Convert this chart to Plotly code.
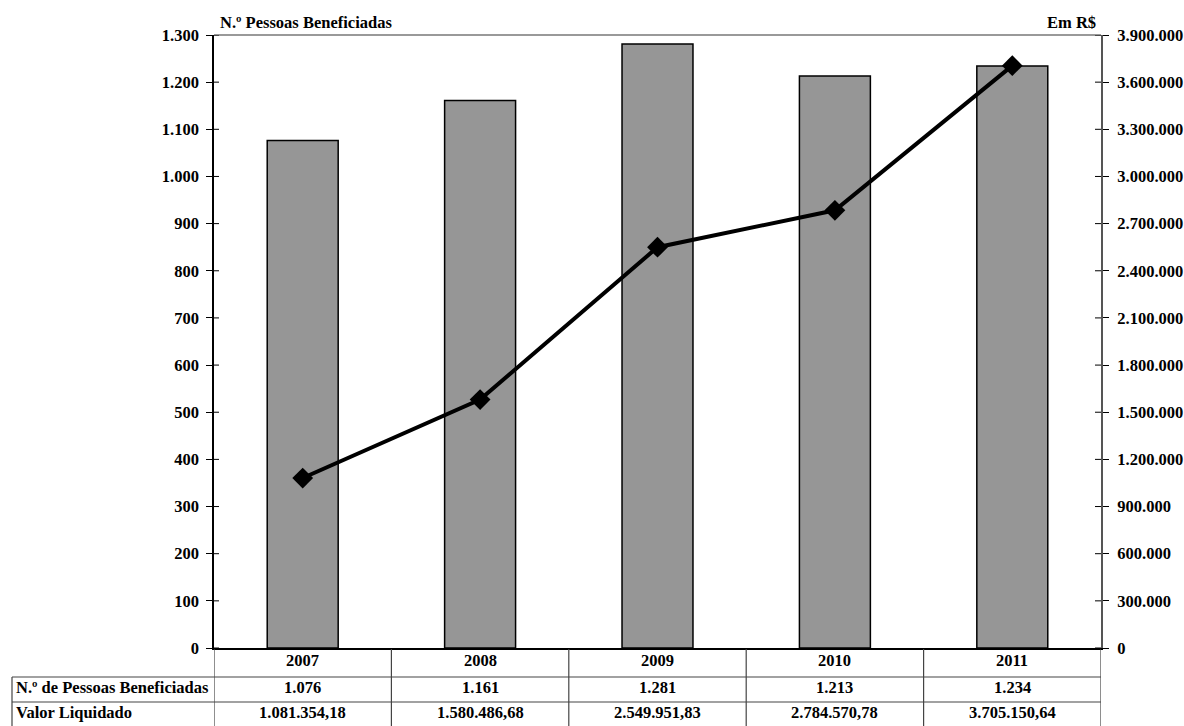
import plotly.graph_objects as go

# --- data ---
years = ["2007", "2008", "2009", "2010", "2011"]
beneficiados = [1076, 1161, 1281, 1213, 1234]
valor_liquidado = [1081354.18, 1580486.68, 2549951.83, 2784570.78, 3705150.64]

left_ticks = list(range(0, 1301, 100))
right_ticks = list(range(0, 3900001, 300000))

row_labels = ["N.º de Pessoas Beneficiadas", "Valor Liquidado"]


def fmt_int(v):
    return f"{v:,}".replace(",", ".")


def fmt_money(v):
    s = f"{v:,.2f}"
    return s.replace(",", "X").replace(".", ",").replace("X", ".")


FONT = "Liberation Serif"
FS = 16.5

fig = go.Figure()

x_idx = list(range(len(years)))

fig.add_trace(go.Bar(
    x=x_idx, y=beneficiados, width=0.4,
    marker=dict(color="#969696", line=dict(color="#000000", width=1.5)),
    yaxis="y", showlegend=False, hoverinfo="skip",
))

fig.add_trace(go.Scatter(
    x=x_idx, y=valor_liquidado, yaxis="y2", mode="lines+markers",
    line=dict(color="#000000", width=4),
    marker=dict(symbol="diamond", size=16, color="#000000"),
    showlegend=False, hoverinfo="skip",
))

fig.update_layout(
    width=1184, height=726,
    margin=dict(l=214, r=83, t=35, b=78, autoexpand=False),
    plot_bgcolor="#ffffff", paper_bgcolor="#ffffff",
    font=dict(family=FONT, size=FS, color="#000000"),
    xaxis=dict(
        range=[-0.5, len(years) - 0.5], showticklabels=False, ticks="",
        showgrid=False, zeroline=False, showline=True, automargin=False,
        linecolor="#000000", linewidth=1.5,
    ),
    yaxis=dict(
        range=[0, 1300], tickvals=left_ticks,
        ticktext=[fmt_int(v) for v in left_ticks],
        ticks="outside", ticklen=6, tickcolor="#000000", tickwidth=1,
        showline=True, linecolor="#000000", linewidth=1.5,
        showgrid=False, zeroline=False, automargin=False,
        tickfont=dict(family=FONT, size=FS, color="#000000", weight="bold"),
        ticklabelstandoff=4,
    ),
    yaxis2=dict(
        range=[0, 3900000], overlaying="y", side="right",
        tickvals=right_ticks, ticktext=[fmt_int(v) for v in right_ticks],
        ticks="outside", ticklen=6, tickcolor="#000000", tickwidth=1,
        showline=True, linecolor="#555555", linewidth=2,
        showgrid=False, zeroline=False, automargin=False,
        tickfont=dict(family=FONT, size=FS, color="#000000", weight="bold"),
        ticklabelstandoff=5,
    ),
)

shapes = []
# top border of the plot area
shapes.append(dict(type="line", xref="paper", yref="paper", x0=0, x1=1, y0=1, y1=1,
                   line=dict(color="#999999", width=2)))
# inner halves of the crossing tick marks
for v in left_ticks:
    shapes.append(dict(type="line", xref="paper", yref="y", x0=0, x1=5 / 887, y0=v, y1=v,
                       line=dict(color="#000000", width=1)))
for v in right_ticks:
    shapes.append(dict(type="line", xref="paper", yref="y2", x0=1 - 6 / 887, x1=1, y0=v, y1=v,
                       line=dict(color="#000000", width=1)))

# data table below the axis
PH = 613.0
PW = 887.0
def py(px):
    return -(px - 648) / PH

y_top = py(649)
y_r1 = py(677)
y_r2 = py(702)
y_bot = py(740)
x_lab = -(214 - 12) / PW
table_line = dict(color="#444444", width=1.2)

for i in range(len(years) + 1):
    shapes.append(dict(type="line", xref="x", yref="paper", x0=i - 0.5, x1=i - 0.5,
                       y0=y_top, y1=y_bot, line=table_line))
for yy in (y_r1, y_r2):
    shapes.append(dict(type="line", xref="paper", yref="paper", x0=x_lab, x1=1,
                       y0=yy, y1=yy, line=table_line))
shapes.append(dict(type="line", xref="paper", yref="paper", x0=x_lab, x1=x_lab,
                   y0=y_r1, y1=y_bot, line=table_line))

annotations = []
y_c0 = py(661)
y_c1 = py(687)
y_c2 = py(712)
cell = dict(showarrow=False, yanchor="middle", font=dict(family=FONT, size=FS))
for i, yr in enumerate(years):
    annotations.append(dict(x=i, y=y_c0, xref="x", yref="paper", xanchor="center",
                            text=f"<b>{yr}</b>", **cell))
    annotations.append(dict(x=i, y=y_c1, xref="x", yref="paper", xanchor="center",
                            text=f"<b>{fmt_int(beneficiados[i])}</b>", **cell))
    annotations.append(dict(x=i, y=y_c2, xref="x", yref="paper", xanchor="center",
                            text=f"<b>{fmt_money(valor_liquidado[i])}</b>", **cell))
for lab, yy in zip(row_labels, (y_c1, y_c2)):
    annotations.append(dict(x=x_lab + 2 / PW, y=yy, xref="paper", yref="paper",
                            xanchor="left", text=f"<b>{lab}</b>", **cell))

# axis captions
annotations.append(dict(x=4 / PW, y=1, xref="paper", yref="paper", yanchor="bottom",
                        xanchor="left", yshift=1, text="<b>N.º Pessoas Beneficiadas</b>",
                        showarrow=False, font=dict(family=FONT, size=FS)))
annotations.append(dict(x=1 - 3 / PW, y=1, xref="paper", yref="paper", yanchor="bottom",
                        xanchor="right", yshift=1, text="<b>Em R$</b>",
                        showarrow=False, font=dict(family=FONT, size=FS)))

fig.update_layout(shapes=shapes, annotations=annotations)

fig.write_html("out.html")
